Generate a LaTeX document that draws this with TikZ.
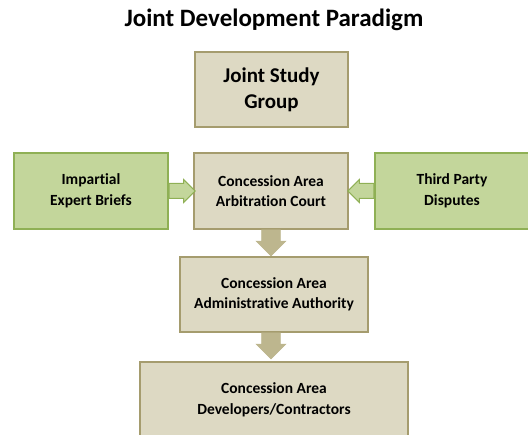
\documentclass[tikz,border=0pt]{standalone}
\usepackage{fontspec}
\setmainfont{Carlito}[Ligatures=NoCommon]
\usetikzlibrary{shapes.arrows}

\definecolor{tanfill}{HTML}{DDD9C3}
\definecolor{tanline}{HTML}{A59C6E}
\definecolor{tanarrow}{HTML}{BDB68E}
\definecolor{greenfill}{HTML}{C3D69B}
\definecolor{greenline}{HTML}{8FB055}

\tikzset{
  box/.style = {draw=tanline, fill=tanfill, line width=1.2pt, align=center,
    inner sep=0pt, font=\bfseries\fontsize{15.5}{20.5}\selectfont},
  sidebox/.style = {box, draw=greenline, fill=greenfill},
  flowarrow/.style = {single arrow, sloped, allow upside down, inner xsep=0pt,
    single arrow head indent=0pt, shape border uses incircle=false,
    pos=0, anchor=tail},
  % shaft width comes from the inner ysep of the empty node
  downarrow/.style = {flowarrow, fill=tanarrow, draw=tanarrow, line width=0.6pt,
    inner ysep=9pt, single arrow head extend=5.5pt, minimum height=26pt},
  sidearrow/.style = {flowarrow, fill=greenfill, draw=greenline, line width=1pt,
    inner ysep=7pt, single arrow head extend=4pt, minimum height=26pt}
}

\begin{document}
\begin{tikzpicture}[x=1pt, y=-1pt]
\useasboundingbox (0,0) rectangle (528,435);
\clip (0,0) rectangle (528,435);

\node[font=\bfseries\fontsize{25}{29}\selectfont] (title) at (274,20) {Joint Development Paradigm};

\node[box, minimum width=153pt, minimum height=75pt,
  font=\bfseries\fontsize{21}{26}\selectfont] (study) at (271.5,89.5) {Joint Study\\Group};

% middle row
\node[box, minimum width=154pt, minimum height=76pt] (court) at (271,191) {Concession Area\\Arbitration Court};
\node[sidebox, minimum width=154pt, minimum height=76pt] (expert) at (91,191) {Impartial\\Expert Briefs};
\node[sidebox, minimum width=154pt, minimum height=76pt] (third) at (452,191) {Third Party\\Disputes};

\node[box, minimum width=188pt, minimum height=75pt] (admin) at (274,294.5) {Concession Area\\Administrative Authority};
\node[box, minimum width=268pt, minimum height=76pt] (devel) at (274,400) {Concession Area\\Developers/Contractors};

% block arrows between the boxes
\path (expert.east) -- node[sidearrow] {} (court.west);
\path (third.west) -- node[sidearrow] {} (court.east);
\path (court.south) -- node[downarrow] {} (court.south |- admin.north);
\path (court.south |- admin.south) -- node[downarrow] {} (court.south |- devel.north);
\end{tikzpicture}
\end{document}
